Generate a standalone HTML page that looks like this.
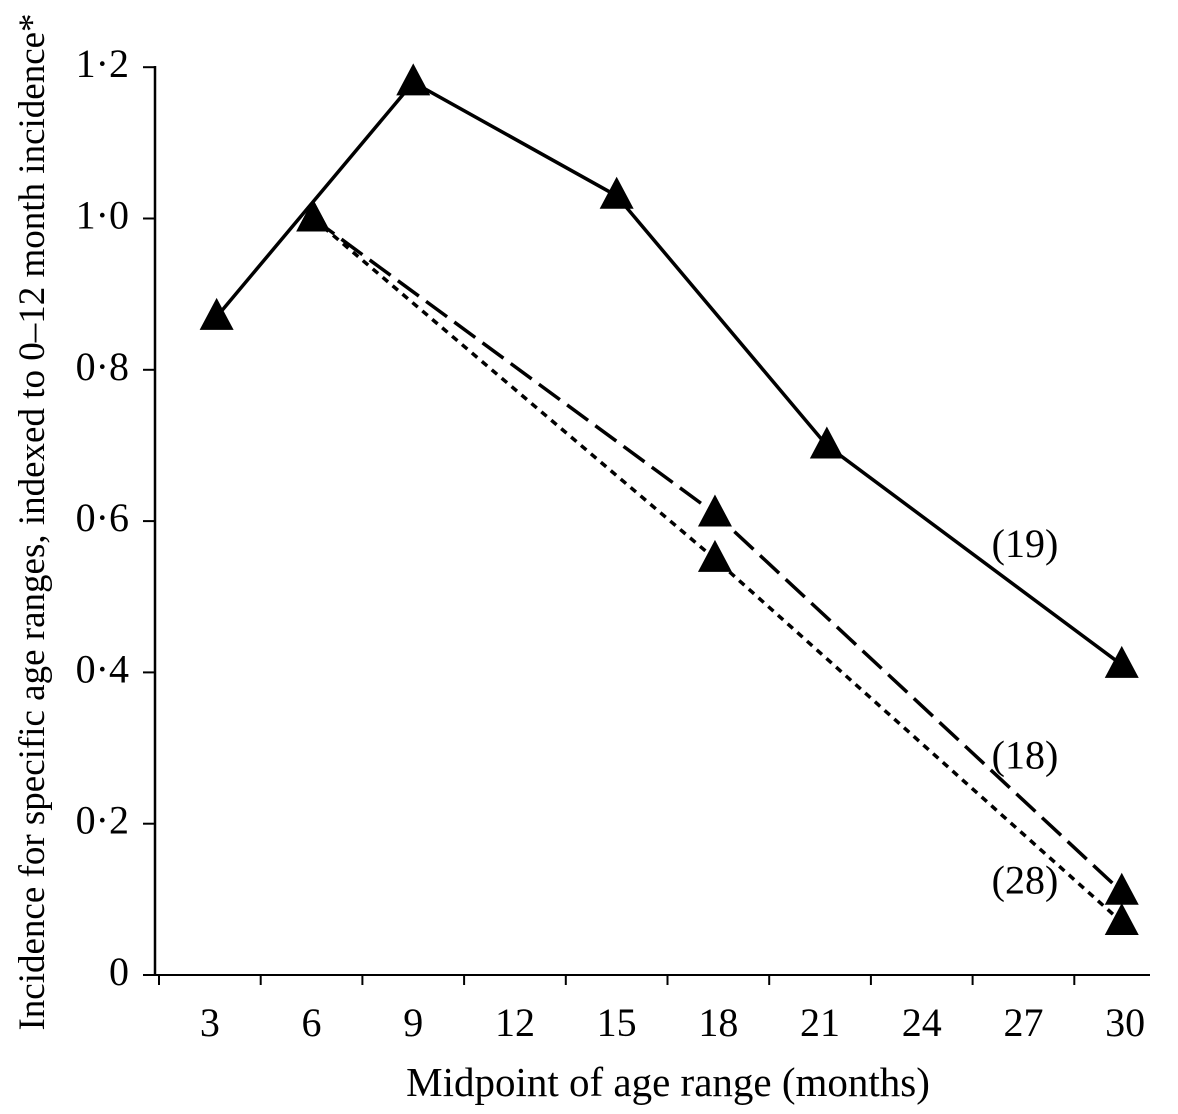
<!DOCTYPE html>
<html><head><meta charset="utf-8"><style>
body{margin:0;background:#fff}
svg text{font-family:"Liberation Serif",serif;fill:#000}
</style></head><body>
<svg id="c" width="1178" height="1109" viewBox="0 0 1178 1109" xmlns="http://www.w3.org/2000/svg">
<g id="axes"></g>
<g id="series"></g>
<text x="668" y="1096" font-size="41" text-anchor="middle">Midpoint of age range (months)</text>
<text transform="translate(44,522) rotate(-90)" font-size="37" text-anchor="middle">Incidence for specific age ranges, indexed to 0–12 month incidence*</text>
</svg>
<script>
const xTicks = [3,6,9,12,15,18,21,24,27,30];
const yTicks = [0,0.2,0.4,0.6,0.8,1.0,1.2];
const yTickLabels = ["0","0·2","0·4","0·6","0·8","1·0","1·2"];
const solidX = [3.2,9,15,21.2,29.9];
const solidY = [0.87,1.18,1.03,0.70,0.41];
const dashedX = [6.05,17.9,29.9];
const dashedY = [1.0,0.61,0.11];
const dottedX = [6.05,17.9,29.9];
const dottedY = [1.0,0.55,0.07];
const seriesLabels = ["(19)","(18)","(28)"];
const seriesLabelY = [0.57,0.29,0.125];

const NS="http://www.w3.org/2000/svg";
const xs = v => 159 + (v-1.5)*(101.7/3);
const ys = v => 975 - v*756.5;
function mk(t,a,p){const e=document.createElementNS(NS,t);for(const k in a)e.setAttribute(k,a[k]);p.appendChild(e);return e;}
const ax=document.getElementById('axes'), se=document.getElementById('series');
let l=mk('line',{x1:155,y1:975,x2:1150,y2:975,stroke:'#000','stroke-width':2},ax);


l=mk('line',{x1:155,y1:66,x2:155,y2:976,stroke:'#000','stroke-width':2.5},ax);


for(let b=1.5;b<=29;b+=3){const t=mk('line',{x1:xs(b),y1:975,x2:xs(b),y2:985,stroke:'#000','stroke-width':2},ax);

}
xTicks.forEach(v=>{const t=mk('text',{x:xs(v),y:1036,'font-size':40,'text-anchor':'middle'},ax);t.textContent=v;

});
yTicks.forEach((v,i)=>{const t=mk('line',{x1:143,y1:ys(v),x2:155,y2:ys(v),stroke:'#000','stroke-width':2},ax);


const tx=mk('text',{x:129,y:ys(v)+10,'font-size':40,'text-anchor':'end'},ax);tx.textContent=yTickLabels[i];

});
function series(X,Y,dash,name){
 const pts=X.map((x,i)=>xs(x)+','+ys(Y[i])).join(' ');
 const p=mk('polyline',{points:pts,fill:'none',stroke:'#000','stroke-width':3.5,'stroke-dasharray':dash},se);
 
 
 X.forEach((x,i)=>{const cx=xs(x),cy=ys(Y[i]);
  const m=mk('polygon',{points:`${cx},${cy-19} ${cx-17},${cy+13} ${cx+17},${cy+13}`,fill:'#000'},se);
  
  });
}
series(dottedX,dottedY,'7 6','dotted-series');
series(dashedX,dashedY,'26 9','dashed-series');
series(solidX,solidY,'none','solid-series');
seriesLabels.forEach((s,i)=>{const t=mk('text',{x:1025,y:ys(seriesLabelY[i])+13,'font-size':40,'text-anchor':'middle'},se);t.textContent=s;

});
</script>
</body></html>
